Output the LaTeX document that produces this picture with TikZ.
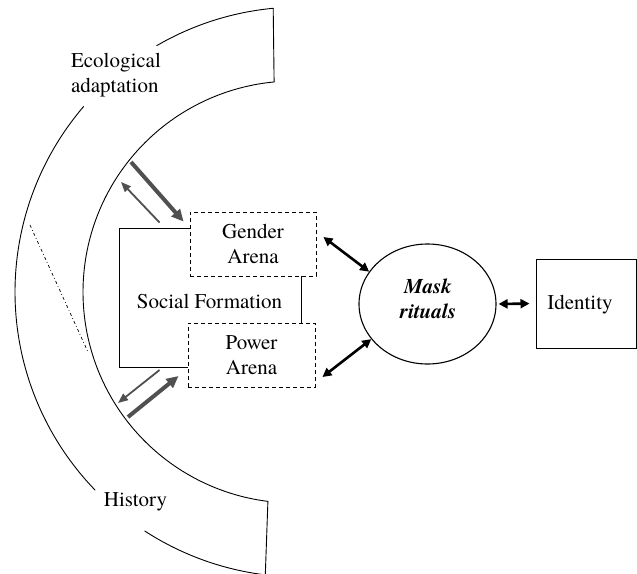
\documentclass[tikz,border=0pt]{standalone}
\usepackage{fontspec}
\setmainfont{TeX Gyre Termes}
\usetikzlibrary{arrows.meta,shapes.geometric,calc}
\definecolor{arrowgray}{RGB}{80,80,80}
\begin{document}
\begin{tikzpicture}[x=1pt,y=-1pt,
  every node/.style={font=\fontsize{21}{25}\selectfont, inner sep=0pt},
  arcline/.style={line width=0.9pt, line cap=round, line join=round},
  arena/.style={draw, dash pattern=on 4pt off 3pt, line width=0.9pt, minimum width=126pt, minimum height=64pt, align=center},
  dbl/.style={line width=2.6pt, {Triangle[length=9pt,width=9pt]}-{Triangle[length=9pt,width=9pt]}},
  gthick/.style={draw=arrowgray, line width=4pt, -{Triangle[length=12pt,width=11pt]}},
  gthin/.style={draw=arrowgray, line width=1.8pt, -{Triangle[length=10pt,width=8pt]}},
]
\useasboundingbox (0,0) rectangle (637,573);

% inner arc
\draw[arcline] plot[domain=95.4:262.9, samples=150] ({294+211*cos(\x)}, {292-211*sin(\x)});
% outer arc segments
\draw[arcline] plot[domain=95.4:120.2, samples=40] ({300+285*cos(\x)}, {292-285*sin(\x)});
\draw[arcline] plot[domain=139.4:224, samples=120] ({300+285*cos(\x)}, {292-285*sin(\x)});
\draw[arcline] plot[domain=237:263, samples=40] ({300+285*cos(\x)}, {292-285*sin(\x)});
% end lines
\draw[arcline] (273.2,8.3) -- (274.1,81.9);
\draw[arcline] (267.9,501.4) -- (265.3,574.9);
% dash-dot line
\draw[line width=0.7pt, dash pattern=on 3pt off 2.5pt on 0.8pt off 2.5pt] (30,225) -- (88,352);

% labels of the arcs
\node[align=left] (eco) at (116,75) {Ecological\\adaptation};
\node (hist) at (135.5,502) {History};

% arenas
\node[arena] (gender) at (253,244) {Gender\\Arena};
\node[arena, minimum width=127pt] (power) at (251.5,355) {Power\\Arena};
\node (social) at (209.5,301) {Social Formation};
\draw[line width=0.9pt] (190,228) -- (119,228) -- (119,367) -- (188,367);
\draw[line width=0.9pt] (301,276) -- (301,323);

% mask rituals
\node[draw, ellipse, line width=1.1pt, minimum width=137pt, minimum height=120pt] (mask) at (427.5,304) {};
\node[font=\fontsize{21}{25}\selectfont\bfseries\itshape, align=center] (masktext) at (428,299) {Mask\\rituals};

% identity
\node[draw, line width=1pt, minimum width=100pt, minimum height=89pt] (identity) at (586,303.5) {};
\node (idtext) at (580,305) {Identity};

% black double arrows
\draw[dbl] ($(gender.east)+(7,-7)$) -- (mask.151);
\draw[dbl] ($(power.east)+(7,22)$) -- (mask.212);
\draw[dbl, shorten <=2pt, shorten >=6pt] (mask.east) -- (identity.west);

% grey arrows
\coordinate (g1) at (131,162);
\coordinate (g2) at ($(gender.north west)+(-30,11)$);
\coordinate (g3) at (121,182);
\draw[gthick] (g1) -- ($(gender.north west)+(-6,10)$);
\draw[gthin] (g2) -- (g3);
\coordinate (p1) at ($(power.west)+(-28,15)$);
\coordinate (p2) at (118,403);
\coordinate (p3) at (128,417);
\draw[gthin] (p1) -- (p2);
\draw[gthick] (p3) -- ($(power.west)+(-9,21)$);
\end{tikzpicture}
\end{document}
